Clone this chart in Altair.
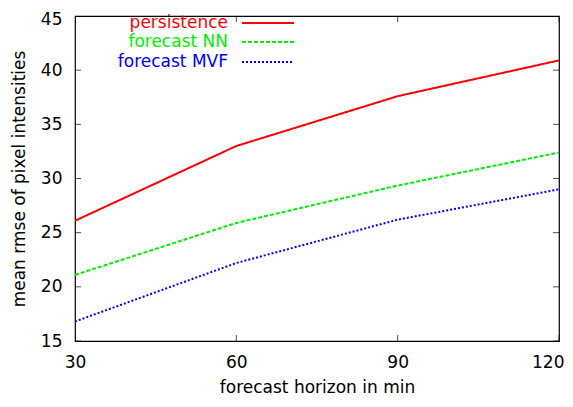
import altair as alt
import pandas as pd

horizons = [30, 60, 90, 120]
persistence = [26.1, 33.0, 37.6, 40.9]
forecast_nn = [21.1, 25.9, 29.35, 32.4]
forecast_mvf = [16.8, 22.2, 26.2, 29.0]

series_names = ["persistence", "forecast NN", "forecast MVF"]
series_values = [persistence, forecast_nn, forecast_mvf]
series_colors = ["#ff0000", "#00ee00", "#0000ff"]
series_dash = [[1, 0], [4, 2], [2, 2]]

x_ticks = [30, 60, 90, 120]
y_ticks = [15, 20, 25, 30, 35, 40, 45]

FONT = "DejaVu Sans"
FS = 17
W, H = 484, 325

rows = []
for name, vals in zip(series_names, series_values):
    for h, v in zip(horizons, vals):
        rows.append({"horizon": h, "rmse": v, "series": name})
df = pd.DataFrame(rows)

xs = alt.Scale(domain=[30, 120], nice=False, zero=False)
ys = alt.Scale(domain=[15, 45], nice=False, zero=False)

x_axis = alt.Axis(values=x_ticks, title="forecast horizon in min", grid=False,
                  domain=False, ticks=False, labelPadding=13, titlePadding=9,
                  labelFontSize=FS, titleFontSize=FS, labelFont=FONT, titleFont=FONT,
                  labelColor="#000", titleColor="#000", titleFontWeight="normal",
                  labelFlush=False,
                  labelAlign={"condition": {"test": "datum.value == 120", "value": "right"}, "value": "center"},
                  labelOffset={"condition": {"test": "datum.value == 120", "value": 5}, "value": 0})
y_axis = alt.Axis(values=y_ticks, title="mean rmse of pixel intensities", grid=False,
                  domain=False, ticks=False, labelPadding=13, titlePadding=12,
                  labelFontSize=FS, titleFontSize=FS, labelFont=FONT, titleFont=FONT,
                  labelColor="#000", titleColor="#000", titleFontWeight="normal",
                  labelFlush=False,
                  labelOffset={"condition": {"test": "datum.value == 45", "value": 3}, "value": 0})

layers = []
for name, col, dash in zip(series_names, series_colors, series_dash):
    layers.append(
        alt.Chart(df[df.series == name]).mark_line(
            color=col, strokeWidth=2, strokeDash=dash, strokeCap="butt", clip=True
        ).encode(
            x=alt.X("horizon:Q", scale=xs, axis=x_axis),
            y=alt.Y("rmse:Q", scale=ys, axis=y_axis),
        )
    )

# inward tick marks (gnuplot style), mirrored on all four sides
xt = pd.DataFrame({"v": x_ticks})
yt = pd.DataFrame({"v": y_ticks})
for yv in [15, 45]:
    layers.append(
        alt.Chart(xt).mark_tick(orient="vertical", size=12, thickness=1, color="#000", clip=True)
        .encode(x=alt.X("v:Q", scale=xs), y=alt.Y("y:Q", scale=ys))
        .transform_calculate(y=str(yv))
    )
for xv in [30, 120]:
    layers.append(
        alt.Chart(yt).mark_tick(orient="horizontal", size=12, thickness=1, color="#000", clip=True)
        .encode(y=alt.Y("v:Q", scale=ys), x=alt.X("x:Q", scale=xs))
        .transform_calculate(x=str(xv))
    )

# key (label left, sample right), as in the original
key_y = [7, 26, 46]
for name, col, dash, ky in zip(series_names, series_colors, series_dash, key_y):
    layers.append(
        alt.Chart(pd.DataFrame({"t": [name]})).mark_text(
            align="right", baseline="middle", fontSize=FS, font=FONT, color=col
        ).encode(text="t:N", x=alt.value(153), y=alt.value(ky))
    )
    layers.append(
        alt.Chart(pd.DataFrame({"t": [name]})).mark_rule(
            color=col, strokeWidth=2, strokeDash=dash, strokeCap="butt"
        ).encode(x=alt.value(167), x2=alt.value(219), y=alt.value(ky))
    )

chart = alt.layer(*layers).properties(
    width=W, height=H,
    autosize=alt.AutoSizeParams(type="none"),
    padding={"left": 67, "top": 8, "right": 6, "bottom": 58},
    background="white",
).configure_view(stroke="#000", strokeWidth=1.2)

chart.save("out.html", embed_options={"renderer": "svg", "actions": False})
